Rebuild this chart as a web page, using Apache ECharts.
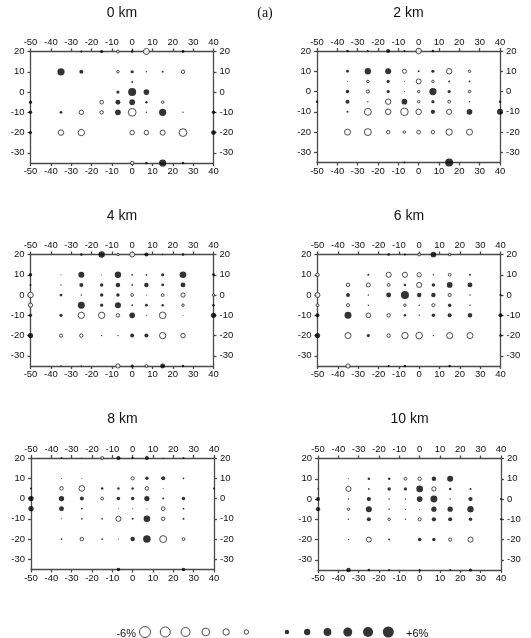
<!DOCTYPE html>
<html><head><meta charset="utf-8">
<script src="https://cdn.jsdelivr.net/npm/echarts@6/dist/echarts.min.js"></script>
<style>html,body{margin:0;padding:0;background:#fff}#c{width:531px;height:638px}</style>
</head><body><div id="c"></div>
<script>
// Grid nodes (km)
const xNodes = [-50, -35, -25, -15, -7, 0, 7, 15, 25, 40];
const yNodes = [20, 10, 5, 0, -5, -10, -20, -35];
const xTicks = [-50, -40, -30, -20, -10, 0, 10, 20, 30, 40];
const yTicks = [-30, -20, -10, 0, 10, 20];
const panelTitles = ['0 km', '2 km', '4 km', '6 km', '8 km', '10 km'];
// Velocity perturbation (%) per node; rows follow yNodes, columns follow xNodes
const v0km = [
  [null, null, 0.2, 0.5, -0.4, 0.3, -1.8, null, 0.4, null],
  [null, 2.6, 0.8, null, -0.3, 0.5, 0.1, 0.2, -0.6, null],
  [null, null, null, null, null, 0.2, null, null, null, null],
  [null, null, null, null, 0.5, 3.2, 1.6, null, null, null],
  [0.5, null, null, -0.7, 1.2, 1.6, 0.3, -0.3, null, null],
  [0.6, 0.4, -1.0, -0.6, 1.6, -3.0, 0.1, 2.6, 0.1, 0.6],
  [0.5, -1.5, -2.0, null, null, -1.0, -1.0, -1.3, -3.0, 1.2],
  [null, null, null, null, null, -0.6, 0.3, 2.6, 0.3, null]
];
const v2km = [
  [null, 0.3, 0.2, 0.8, 0.2, -1.5, 0.3, null, null, null],
  [null, 0.4, 2.0, 1.8, -0.8, 0.2, 0.5, -1.5, -0.3, null],
  [null, 0.05, -0.3, 0.5, 0.05, -1.2, -0.3, 0.2, 0.15, null],
  [null, 0.6, -0.5, 0.5, 0.05, -0.3, 2.6, 0.5, -0.3, null],
  [0.3, 0.8, 0.1, -1.5, 1.6, -0.3, 0.5, -0.4, 0.1, 0.3],
  [null, 0.2, -2.4, -1.5, -2.8, -1.5, 0.9, -1.3, 1.6, 1.8],
  [null, -1.8, -2.4, -0.6, -0.3, -0.7, -0.6, -2.0, -1.8, null],
  [null, null, null, null, 0.2, null, null, 3.2, null, null]
];
const v4km = [
  [null, null, 0.3, 2.0, -0.3, -1.2, 0.8, 0.1, 0.3, null],
  [0.6, 0.05, 1.8, 0.05, 2.0, 0.15, 0.15, 0.5, 2.2, 0.4],
  [0.2, 0.1, 0.8, 0.6, 1.0, 0.15, 1.0, 0.4, 1.2, null],
  [-1.5, 0.4, 0.1, 0.6, 0.6, -0.4, 0.05, -0.4, -0.9, -0.3],
  [-0.9, null, 2.4, 0.5, 1.8, 0.15, 0.4, 0.3, -0.3, 0.3],
  [0.5, 0.5, -2.0, -2.0, -0.6, 1.6, 0.05, -2.2, 0.05, 1.4],
  [1.4, -0.5, -0.6, 0.1, 0.1, 0.8, 0.8, -2.0, -1.0, null],
  [null, 0.1, 0.1, null, -0.9, 0.5, -0.4, 1.2, 0.3, null]
];
const v6km = [
  [null, null, null, 0.3, 0.2, -0.4, 1.6, -0.3, null, null],
  [-0.6, null, 0.2, -1.3, -1.3, -0.9, 0.1, -0.4, 0.2, null],
  [null, -0.6, -0.8, -0.4, 0.3, -1.3, 0.6, 1.6, 1.2, null],
  [-1.2, 0.8, 0.1, 1.2, 3.2, 1.0, 1.0, -0.5, 0.1, 0.2],
  [-0.4, -0.5, 0.1, null, -0.3, 0.1, -0.5, 0.6, 0.1, null],
  [0.8, 2.4, -1.1, -0.6, 0.3, 0.1, 0.6, 0.8, 1.0, 0.8],
  [1.4, -1.8, 0.5, -0.6, -2.0, -2.2, 0.1, -1.8, -1.8, 0.3],
  [null, -0.9, null, 0.2, 0.3, null, null, 0.3, null, null]
];
const v8km = [
  [null, 0.2, 0.05, -0.4, 0.8, 0.2, 0.8, 0.05, 0.2, null],
  [null, 0.05, 0.05, null, null, -0.5, 0.6, 0.8, 0.15, null],
  [0.2, -0.6, -1.6, 0.3, 0.3, 0.3, -0.6, 0.05, null, 0.2],
  [1.4, 1.4, 0.8, -0.4, 0.6, 0.6, 1.4, 0.2, 0.6, null],
  [1.4, 1.2, 0.15, null, 0.05, 0.05, 0.05, -0.7, 0.15, null],
  [null, 0.05, 0.15, 0.15, -1.3, 0.2, 2.2, -0.6, 0.2, null],
  [null, 0.15, -0.6, 0.15, 0.05, 1.0, 2.8, -2.4, -0.4, null],
  [null, null, null, null, 0.6, null, null, null, 0.6, null]
];
const v10km = [
  [null, null, null, null, null, null, null, null, null, null],
  [null, 0.05, 0.3, 0.3, -0.4, -0.6, 1.0, 1.8, null, null],
  [0.1, -1.3, 0.15, 0.6, 0.5, 2.2, -0.9, 0.3, 0.2, null],
  [0.8, 0.1, 0.9, 0.1, 0.1, 1.6, 2.4, 0.1, 0.9, 0.2],
  [0.9, -0.3, 1.8, 0.1, 0.05, 0.05, 1.4, 1.4, 2.0, null],
  [null, 0.1, 0.8, -0.3, 0.1, -0.5, 0.9, 0.8, 0.6, 0.2],
  [null, 0.1, -1.2, 0.2, null, 0.6, 0.6, -0.5, -1.3, null],
  [null, 1.0, 0.3, 0.2, null, 0.2, null, 0.2, 0.5, null]
];
const legendValues = [-6, -5, -4, -3, -2, -1, 1, 2, 3, 4, 5, 6];
const legendLabels = ['-6%', '+6%'];

const panelValues = [v0km, v2km, v4km, v6km, v8km, v10km];
const FONT = "'Liberation Sans', Arial, Helvetica, sans-serif";
const sizeOf = v => 11 * Math.sqrt(Math.abs(v) / 6);

const layout = [
  {left: 30.5, top: 51.5}, {left: 317, top: 51},
  {left: 30.5, top: 254.5}, {left: 317.5, top: 254.5},
  {left: 31, top: 458}, {left: 318, top: 458.5}
];
const W = 183, H = 111.5;
const lineStyle = {color: '#4a4a4a', width: 1.3};
const labelStyle = {fontFamily: FONT, fontSize: 9.5, color: '#111'};

const grid = [], xAxis = [], yAxis = [], series = [], graphic = [];
layout.forEach((p, i) => {
  grid.push({left: p.left, top: p.top, width: W, height: H});
  ['bottom', 'top'].forEach(pos => xAxis.push({
    type: 'value', gridIndex: i, position: pos, min: -50, max: 40, interval: 10,
    splitLine: {show: false}, axisLine: {show: true, onZero: false, lineStyle},
    axisTick: {show: true, length: 3, lineStyle},
    axisLabel: Object.assign({margin: pos === 'top' ? 4 : 3.5}, labelStyle)
  }));
  ['left', 'right'].forEach(pos => yAxis.push({
    type: 'value', gridIndex: i, position: pos, min: -35, max: 20,
    splitLine: {show: false}, axisLine: {show: true, onZero: false, lineStyle},
    axisTick: {show: true, length: 3, lineStyle, customValues: yTicks},
    axisLabel: Object.assign({margin: 6, customValues: yTicks}, labelStyle)
  }));
  const pos = [], neg = [];
  panelValues[i].forEach((row, r) => row.forEach((v, c) => {
    if (v === null) return;
    (v >= 0 ? pos : neg).push([xNodes[c], yNodes[r], v]);
  }));
  series.push({
    type: 'scatter', xAxisIndex: 2 * i, yAxisIndex: 2 * i, data: neg, clip: false, z: 5,
    symbolSize: d => sizeOf(d[2]), silent: true,
    itemStyle: {color: '#fff', borderColor: '#222', borderWidth: 1}
  });
  series.push({
    type: 'scatter', xAxisIndex: 2 * i, yAxisIndex: 2 * i, data: pos, clip: false, z: 6,
    symbolSize: d => sizeOf(d[2]), silent: true,
    itemStyle: {color: '#000'}
  });
  graphic.push({
    type: 'text', x: p.left + W / 2, y: [13, 13, 216, 216, 419, 419][i],
    style: {text: panelTitles[i], font: '14px ' + FONT, fill: '#111', align: 'center', verticalAlign: 'middle'}
  });
});
// legend strip
const li = layout.length;
grid.push({left: 145, top: 626, width: 243.3, height: 16});
xAxis.push({type: 'value', gridIndex: li, min: -6, max: 6, show: false});
yAxis.push({type: 'value', gridIndex: li, min: -1, max: 1, show: false});
series.push({
  type: 'scatter', xAxisIndex: xAxis.length - 1, yAxisIndex: yAxis.length - 1, clip: false,
  data: legendValues.filter(v => v < 0).map(v => [v, 0, v]),
  symbolSize: d => sizeOf(d[2]), silent: true,
  itemStyle: {color: '#fff', borderColor: '#222', borderWidth: 1}
});
series.push({
  type: 'scatter', xAxisIndex: xAxis.length - 1, yAxisIndex: yAxis.length - 1, clip: false,
  data: legendValues.filter(v => v > 0).map(v => [v, 0, v]),
  symbolSize: d => sizeOf(d[2]), silent: true,
  itemStyle: {color: '#000'}
});
graphic.push({type: 'text', x: 136, y: 634, style: {text: legendLabels[0], font: '11px ' + FONT, fill: '#111', align: 'right', verticalAlign: 'middle'}});
graphic.push({type: 'text', x: 406, y: 634, style: {text: legendLabels[1], font: '11px ' + FONT, fill: '#111', align: 'left', verticalAlign: 'middle'}});
graphic.push({type: 'text', x: 265, y: 13, style: {text: '(a)', font: "14px 'Liberation Serif', 'Times New Roman', serif", fill: '#111', align: 'center', verticalAlign: 'middle'}});

const chart = echarts.init(document.getElementById('c'), null, {renderer: 'canvas'});
chart.setOption({animation: false, backgroundColor: '#fff', grid, xAxis, yAxis, series, graphic});
</script></body></html>
